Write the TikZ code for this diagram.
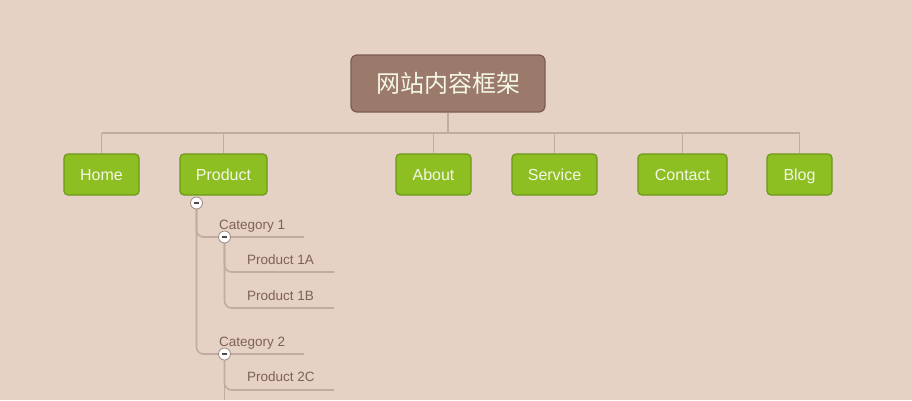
\documentclass[tikz,border=0pt]{standalone}
\usepackage{fontspec}
\setmainfont{Liberation Sans}
\newfontfamily\cjk{Noto Sans CJK SC}
\definecolor{bg}{HTML}{E6D1C5}
\definecolor{rootfill}{HTML}{9B7A6B}
\definecolor{rootdraw}{HTML}{7C5E50}
\definecolor{gfill}{HTML}{8DBF22}
\definecolor{gdraw}{HTML}{6C9818}
\definecolor{lnc}{HTML}{C3ABA1}
\definecolor{subtxt}{HTML}{7E6254}
\definecolor{boxtxt}{HTML}{F4F6E6}
\tikzset{
  rootbox/.style={draw=rootdraw, fill=rootfill, line width=1.2pt, rounded corners=6pt, minimum width=194pt, minimum height=57pt, text=boxtxt, font=\cjk\fontsize{24}{28}\selectfont, inner sep=0pt},
  topic/.style={draw=gdraw, fill=gfill, line width=1.2pt, rounded corners=4pt, minimum height=41pt, text=boxtxt, font=\fontsize{16}{19}\selectfont, inner sep=0pt, text height=11.5pt, text depth=0pt},
  conn/.style={draw=lnc, line width=1.6pt},
  tree/.style={draw=lnc, line width=1.6pt, rounded corners=7pt},
  subt/.style={text=subtxt, font=\fontsize{13.5}{16}\selectfont, inner sep=0pt, anchor=base west},
  toggle/.style={circle, draw=lnc!80!black, fill=white!95!bg, line width=0.8pt, minimum size=12pt, inner sep=0pt}
}
\begin{document}
\begin{tikzpicture}[x=1pt,y=-1pt]
\fill[bg] (0,0) rectangle (912,400);
\useasboundingbox (0,0) rectangle (912,400);
% root
\node[rootbox] (root) at (448,83.5) {网站内容框架};
% topics
\node[topic, minimum width=75pt] (home) at (101.5,174.5) {Home};
\node[topic, minimum width=87pt] (product) at (223.5,174.5) {Product};
\node[topic, minimum width=75pt] (about) at (433.5,174.5) {About};
\node[topic, minimum width=85pt] (service) at (554.5,174.5) {Service};
\node[topic, minimum width=89pt] (contact) at (682.5,174.5) {Contact};
\node[topic, minimum width=65pt] (blog) at (799.5,174.5) {Blog};
% bus
\coordinate (bus) at (0,133);
\draw[conn] (root.south) -- (root.south |- bus);
\draw[conn] (home.north |- bus) -- (blog.north |- bus);
\foreach \n in {home,product,about,service,contact,blog}
  \draw[conn] (\n.north) -- (\n.north |- bus);
% subtree coordinates
\coordinate (c0pos) at (196.5,203);
\coordinate (c1pos) at (224.5,237);
\coordinate (c2pos) at (224.5,354);
\coordinate (e1) at (304,237);
\coordinate (e2) at (304,354);
\coordinate (e1a) at (334,272);
\coordinate (e1b) at (334,308);
\coordinate (e2c) at (334,390);
\coordinate (e2d) at (224.5,400);
% subtree lines
\draw[tree] (c0pos) |- (e1);
\draw[tree] (c0pos) |- (e2);
\draw[tree] (c1pos) |- (e1a);
\draw[tree] (c1pos) |- (e1b);
\draw[tree] (c2pos) |- (e2c);
\draw[conn] (c2pos) -- (e2d);
% labels
\node[subt] (cat1) at (219,229) {Category 1};
\node[subt] (p1a) at (247,264) {Product 1A};
\node[subt] (p1b) at (247,300) {Product 1B};
\node[subt] (cat2) at (219,346) {Category 2};
\node[subt] (p2c) at (247,381) {Product 2C};
% toggles
\foreach \c/\nm in {c0pos/t0,c1pos/t1,c2pos/t2}{
  \node[toggle] (\nm) at (\c) {};
  \draw[line width=1.5pt, draw=black!70] ([xshift=-2.8pt]\nm.center) -- ([xshift=2.8pt]\nm.center);
}
\end{tikzpicture}
\end{document}
